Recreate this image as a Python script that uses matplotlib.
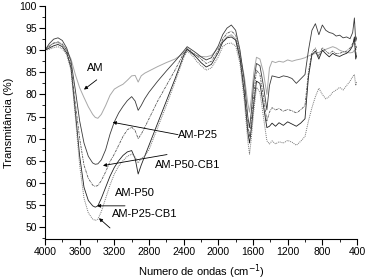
import matplotlib
matplotlib.use("Agg")
import matplotlib.pyplot as plt
from matplotlib.ticker import MultipleLocator

plt.rcParams['font.family'] = ['Liberation Sans', 'DejaVu Sans']

wn = [4000, 3950, 3900, 3850, 3800, 3750, 3700, 3650, 3600, 3550, 3500, 3450, 3420, 3390, 3350,
      3300, 3250, 3200, 3150, 3100, 3050, 3000, 2960, 2925, 2890, 2850, 2800, 2700, 2600, 2500,
      2400, 2360, 2300, 2250, 2200, 2140, 2080, 2000, 1950, 1900, 1850, 1800, 1750, 1700, 1660,
      1640, 1620, 1590, 1560, 1520, 1480, 1440, 1410, 1380, 1340, 1300, 1250, 1200, 1150, 1100,
      1050, 1000, 960, 920, 880, 840, 800, 760, 720, 680, 640, 600, 560, 520, 480, 450, 430, 415, 400]

am = [90, 91, 91.6, 91.7, 91.2, 90, 88, 84.5, 81.5, 79.3, 77.2, 75.5, 74.8, 74.6, 75.5,
      77.5, 79.8, 81.2, 81.8, 82.3, 83.2, 84.2, 84.3, 82.8, 84.2, 84.8, 85.3, 86.3, 87.2, 88,
      89.3, 90.2, 89.2, 88.8, 88.6, 88.5, 88.8, 90.5, 92, 93, 93.5, 92.5, 89, 84, 78,
      76, 79, 85, 88.4, 88, 85, 80, 86, 87.5, 87.2, 87.5, 87.3, 87.8, 87.5, 87.8,
      88, 88.3, 88.7, 89, 89.3, 89.5, 89.8, 90.2, 90.5, 90.8, 90.5, 90, 89.7, 89.5, 89.4, 89.5, 90, 89, 89.5]

am_p25 = [90, 91.5, 92.5, 92.8, 92.2, 90.5, 87.5, 81, 74, 69, 66, 64.5, 64.2, 64.3, 65.2,
          67.5, 71, 73.8, 75.8, 77.3, 78.6, 79.5, 78.5, 76.4, 77.5, 79, 80.5, 83, 85.3, 87.5,
          89.8, 90.8, 90, 89.3, 88.5, 87.8, 88.3, 91, 93.5, 95, 95.7, 94.5, 90, 83, 75,
          72.5, 76, 83, 87, 86.5, 82, 76.5, 82, 84.2, 84, 83.8, 84.2, 84, 83.6, 82.5,
          83.5, 84.5, 90, 94.5, 96, 93.5, 95.7, 94.5, 94, 93.8, 93.2, 93.4, 92.8, 93, 92.6, 94, 97.3, 92, 93]

am_p50_cb1 = [90, 90.8, 91.6, 91.9, 91.4, 90, 86.5, 78, 70, 64, 61, 59.5, 59.2, 59.4, 60.5,
              62.5, 64.8, 66.5, 68.5, 70.5, 72, 72.6, 71.8, 70, 71, 72.5, 74.5, 78.5, 82, 85.5,
              89.3, 90.5, 89.5, 88.8, 88, 87, 87.5, 90, 92.5, 93.8, 94.3, 93.5, 89, 81, 73,
              70.5, 74, 80, 85.5, 84.5, 79.5, 74, 76, 77, 76.5, 76.8, 76.2, 76.6, 76.3, 75.8,
              76.5, 77.5, 85, 89.5, 90.5, 88.5, 90.6, 89.8, 89.2, 89.8, 89.2, 89.3, 89.6, 89.8, 90.5, 91.5, 92.5, 90, 91]

am_p50 = [90, 90.5, 91, 91.3, 90.8, 89.4, 86, 76, 66, 59, 56, 54.8, 54.5, 54.8, 56.5,
          59, 61.5, 63.5, 65, 66.2, 67, 67.3, 65.5, 62, 64, 66, 68.5, 73.5, 78.5, 83.5,
          88.8, 90.2, 89.3, 88.3, 87.2, 86.2, 86.8, 89.5, 91.8, 92.8, 93, 92.3, 88, 80, 71.5,
          69, 72, 78, 83, 82.5, 77.5, 72.5, 72.8, 73.5, 72.8, 73.6, 73, 73.8, 73.3, 72.8,
          73.5, 74.5, 84, 89, 89.8, 88, 90, 89.2, 88.5, 89.3, 88.8, 88.6, 89, 89.3, 90, 91, 93, 88, 89]

am_p25_cb1 = [90, 90.2, 90.6, 90.8, 90.3, 89, 85.5, 75, 64, 56.5, 53.2, 51.8, 51.5, 51.8, 53.5,
              56.5, 59.5, 62, 63.8, 65, 66, 66.5, 65.8, 64.5, 65.5, 66, 67.5, 72.5, 77.5, 82.8,
              88.3, 89.8, 88.8, 87.5, 86.5, 85.5, 86, 88.5, 90.8, 91.5, 91.6, 91, 87, 78.5, 69.5,
              66.5, 70, 76.5, 81.6, 80.5, 75, 69.5, 68.8, 69.5, 68.8, 69.3, 69, 69.6, 69.2, 68.5,
              69.4, 70.5, 74, 77, 79.5, 81.4, 80, 79, 79.5, 80.5, 81, 81.6, 81, 82, 83, 84, 84.5, 82, 83]

series = [
    ("AM", am, '#a8a8a8', '-', 0.7),
    ("AM-P25", am_p25, '#3a3a3a', '-', 0.6),
    ("AM-P50-CB1", am_p50_cb1, '#555555', (0, (3, 1, 1, 1)), 0.6),
    ("AM-P50", am_p50, '#202020', '-', 0.6),
    ("AM-P25-CB1", am_p25_cb1, '#777777', (0, (1, 1)), 0.7),
]

fig = plt.figure(figsize=(3.67, 2.80), dpi=100)
ax = fig.add_axes([45/367, 41/280, 312/367, 233/280])

for name, vals, c, ls, lw in series:
    ax.plot(wn, vals, color=c, linestyle=ls, linewidth=lw)

ax.set_xlim(4000, 400)
ax.set_ylim(47.3, 100)
ax.set_xticks([4000, 3600, 3200, 2800, 2400, 2000, 1600, 1200, 800, 400])
ax.xaxis.set_minor_locator(MultipleLocator(200))
ax.set_yticks([50, 55, 60, 65, 70, 75, 80, 85, 90, 95, 100])
ax.yaxis.set_minor_locator(MultipleLocator(2.5))
ax.spines['top'].set_visible(False)
ax.spines['right'].set_visible(False)
for s in ('left', 'bottom'):
    ax.spines[s].set_linewidth(0.8)
ax.tick_params(which='major', direction='out', length=4, width=0.8, labelsize=7.5, pad=2)
ax.tick_params(which='minor', direction='out', length=2, width=0.6)

ax.set_xlabel('Numero de ondas (cm$^{-1}$)', fontsize=8, labelpad=4)
ax.set_ylabel('Transmitância (%)', fontsize=8, labelpad=4)

ap = dict(arrowstyle='-|>', lw=0.6, color='black', mutation_scale=5, shrinkA=0, shrinkB=0)
ax.annotate('', xy=(3550, 81.1), xytext=(3403, 83.3), arrowprops=ap)
ax.text(3423, 85.9, 'AM', fontsize=8, ha='center', va='center')

ax.annotate('', xy=(3219, 73.7), xytext=(2465, 70.9), arrowprops=ap)
ax.text(2465, 70.9, 'AM-P25', fontsize=8, ha='left', va='center')

ax.annotate('', xy=(3331, 63.9), xytext=(2592, 66.4), arrowprops=ap)
ax.text(2731, 64.0, 'AM-P50-CB1', fontsize=8, ha='left', va='center')

ax.annotate('', xy=(3400, 54.8), xytext=(3077, 54.8), arrowprops=ap)
ax.text(3192, 57.7, 'AM-P50', fontsize=8, ha='left', va='center')

ax.annotate('', xy=(3377, 52.0), xytext=(3250, 49.8), arrowprops=ap)
ax.text(3227, 53.0, 'AM-P25-CB1', fontsize=8, ha='left', va='center')

fig.savefig('out.png', dpi=100)
